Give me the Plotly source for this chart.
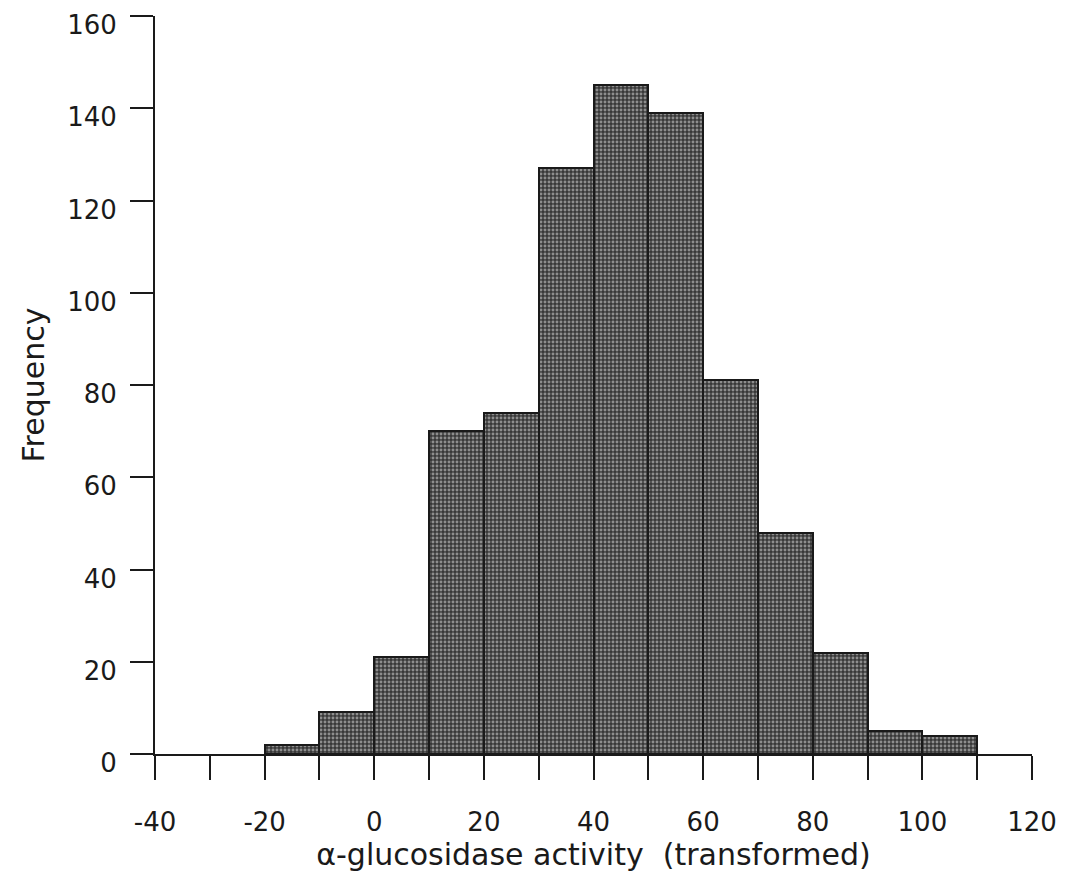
import plotly.graph_objects as go

# Histogram data
bin_left = [-20, -10, 0, 10, 20, 30, 40, 50, 60, 70, 80, 90, 100]
bin_width = 10
counts = [2, 9, 21, 70, 74, 127, 145, 139, 81, 48, 22, 5, 4]

x_tickvals = list(range(-40, 121, 10))
x_ticktext = [str(v) if v % 20 == 0 else "" for v in x_tickvals]
y_tickvals = list(range(0, 161, 20))

centers = [b + bin_width / 2 for b in bin_left]

fig = go.Figure()
fig.add_trace(go.Bar(
    x=centers,
    y=counts,
    width=bin_width,
    marker=dict(
        color="#383838",
        line=dict(color="#1a1a1a", width=2),
        pattern=dict(shape=".", size=4, solidity=0.42,
                     fgcolor="#e4e4e4", bgcolor="#383838", fillmode="overlay"),
    ),
    showlegend=False,
))

font_family = "DejaVu Sans, Verdana, sans-serif"

fig.update_layout(
    width=1065, height=886,
    margin=dict(l=155, r=33, t=16, b=132),
    paper_bgcolor="white", plot_bgcolor="white",
    font=dict(family=font_family, color="#1a1a1a", size=26),
    bargap=0,
)
fig.update_xaxes(
    range=[-40, 120],
    tickvals=x_tickvals, ticktext=x_ticktext,
    ticks="outside", ticklen=24, tickwidth=2, tickcolor="#1a1a1a",
    showline=True, linecolor="#1a1a1a", linewidth=2,
    showgrid=False, zeroline=False, automargin=False,
    tickfont=dict(size=26),
    ticklabelstandoff=20,
    title=dict(text="α-glucosidase activity  (transformed)", font=dict(size=30), standoff=6),
)
fig.update_yaxes(
    range=[0, 160],
    tickvals=y_tickvals,
    ticks="outside", ticklen=23, tickwidth=2, tickcolor="#1a1a1a",
    showline=True, linecolor="#1a1a1a", linewidth=2,
    showgrid=False, zeroline=False, automargin=False,
    tickfont=dict(size=26),
    ticklabelstandoff=8,
    ticklabelshift=9,
    title=dict(text="Frequency", font=dict(size=30), standoff=14),
)

fig.write_html("out.html")
